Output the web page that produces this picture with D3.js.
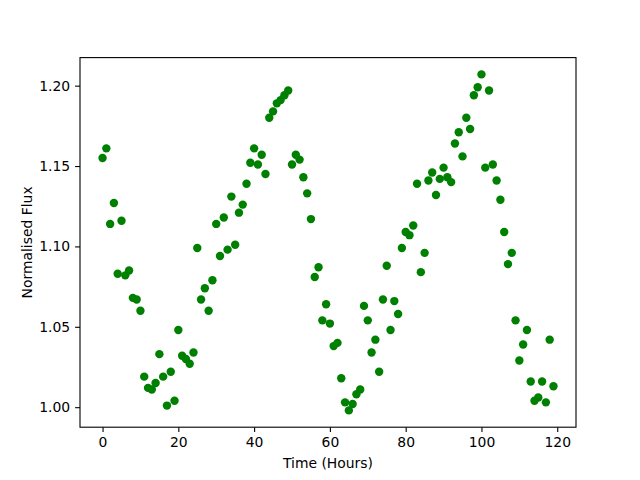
<!DOCTYPE html>
<html>
<head>
<meta charset="utf-8">
<script src="https://cdn.jsdelivr.net/npm/d3@7"></script>
<style>
  body { margin: 0; background: white; }
  text { font-family: "DejaVu Sans", sans-serif; }
</style>
</head>
<body>
<div id="chart"></div>
<script>
const margin = { top: 57.6, right: 64, bottom: 52.8, left: 80 };
const width = 640 - margin.left - margin.right;
const height = 480 - margin.top - margin.bottom;

const hours = [
  0, 1, 2, 3, 4, 5, 6, 7, 8, 9, 10, 11, 12, 13, 14, 15, 16, 17, 18, 19,
  20, 21, 22, 23, 24, 25, 26, 27, 28, 29, 30, 31, 32, 33, 34, 35, 36, 37, 38, 39,
  40, 41, 42, 43, 44, 45, 46, 47, 48, 49, 50, 51, 52, 53, 54, 55, 56, 57, 58, 59,
  60, 61, 62, 63, 64, 65, 66, 67, 68, 69, 70, 71, 72, 73, 74, 75, 76, 77, 78, 79,
  80, 81, 82, 83, 84, 85, 86, 87, 88, 89, 90, 91, 92, 93, 94, 95, 96, 97, 98, 99,
  100, 101, 102, 103, 104, 105, 106, 107, 108, 109, 110, 111, 112, 113, 114, 115, 116, 117, 118, 119
];

const flux = [
  1.155, 1.161, 1.114, 1.127, 1.083, 1.116, 1.082, 1.085, 1.068, 1.067,
  1.060, 1.019, 1.012, 1.011, 1.015, 1.033, 1.019, 1.001, 1.022, 1.004,
  1.048, 1.032, 1.030, 1.027, 1.034, 1.099, 1.067, 1.074, 1.060, 1.079,
  1.114, 1.094, 1.118, 1.098, 1.131, 1.101, 1.121, 1.126, 1.139, 1.152,
  1.161, 1.151, 1.157, 1.145, 1.180, 1.184, 1.189, 1.191, 1.194, 1.197,
  1.151, 1.157, 1.154, 1.143, 1.133, 1.117, 1.081, 1.087, 1.054, 1.064,
  1.052, 1.038, 1.040, 1.018, 1.003, 0.998, 1.002, 1.008, 1.011, 1.063,
  1.054, 1.034, 1.042, 1.022, 1.067, 1.088, 1.048, 1.066, 1.058, 1.099,
  1.109, 1.107, 1.113, 1.139, 1.084, 1.096, 1.141, 1.146, 1.132, 1.142,
  1.149, 1.143, 1.140, 1.164, 1.171, 1.156, 1.180, 1.173, 1.194, 1.199,
  1.207, 1.149, 1.197, 1.151, 1.141, 1.129, 1.109, 1.089, 1.096, 1.054,
  1.029, 1.039, 1.048, 1.016, 1.004, 1.006, 1.016, 1.003, 1.042, 1.013
];

const xTicks = [0, 20, 40, 60, 80, 100, 120];
const yTicks = [1.00, 1.05, 1.10, 1.15, 1.20];

const data = hours.map((h, i) => ({ hour: h, flux: flux[i] }));

const svg = d3.select('#chart')
    .append('svg')
    .attr('width', 640)
    .attr('height', 480)
    .append('g')
    .attr('transform', `translate(${margin.left}, ${margin.top})`);

// matplotlib style 5% margins
const [xMin, xMax] = d3.extent(hours);
const xPad = (xMax - xMin) * 0.05;
const [yMin, yMax] = d3.extent(flux);
const yPad = (yMax - yMin) * 0.05;

const x = d3.scaleLinear()
    .domain([xMin - xPad, xMax + xPad])
    .range([0, width]);

const y = d3.scaleLinear()
    .domain([yMin - yPad, yMax + yPad])
    .range([height, 0]);

const xAxis = svg.append('g')
    .attr('transform', `translate(0, ${height})`)
    .call(d3.axisBottom(x).tickValues(xTicks).tickSize(4.9).tickPadding(4.9).tickFormat(d3.format('d')));

const yAxis = svg.append('g')
    .call(d3.axisLeft(y).tickValues(yTicks).tickSize(4.9).tickPadding(4.9).tickFormat(d3.format('.2f')));

[xAxis, yAxis].forEach(a => {
    a.select('.domain').remove();
    a.selectAll('line').attr('stroke', 'black').attr('stroke-width', 1.1);
    a.selectAll('text')
        .style('font-family', '"DejaVu Sans", sans-serif')
        .style('font-size', '13.9px')
        .attr('fill', 'black');
});

// frame
svg.append('rect')
    .attr('x', 0)
    .attr('y', 0)
    .attr('width', width)
    .attr('height', height)
    .attr('fill', 'none')
    .attr('stroke', 'black')
    .attr('stroke-width', 1.1);

svg.selectAll('circle')
    .data(data)
    .join('circle')
    .attr('cx', d => x(d.hour))
    .attr('cy', d => y(d.flux))
    .attr('r', 4.2)
    .attr('fill', 'green');

svg.append('text')
    .attr('x', width / 2)
    .attr('y', height + 41)
    .attr('text-anchor', 'middle')
    .style('font-size', '13.9px')
    .text('Time (Hours)');

svg.append('text')
    .attr('transform', `translate(-48, ${height / 2}) rotate(-90)`)
    .attr('text-anchor', 'middle')
    .style('font-size', '13.9px')
    .text('Normalised Flux');
</script>
</body>
</html>
